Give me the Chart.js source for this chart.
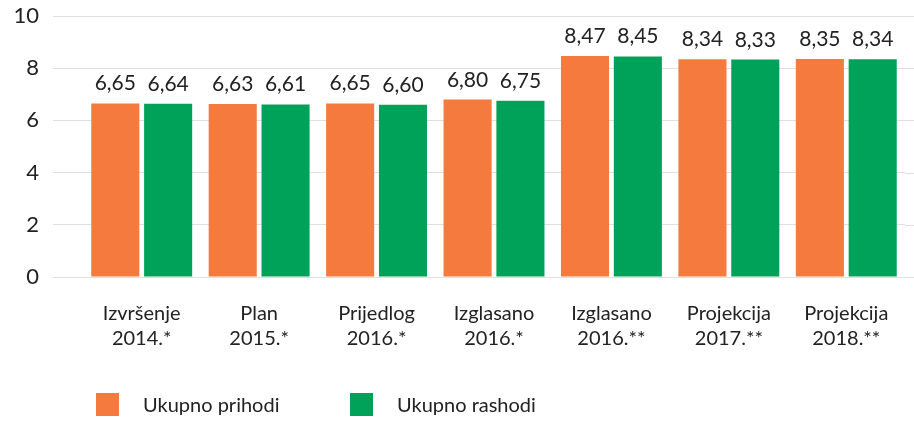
<!DOCTYPE html>
<html><head><meta charset="utf-8">
<script src="https://cdn.jsdelivr.net/npm/chart.js@4/dist/chart.umd.min.js"></script>
<style>html,body{margin:0;padding:0;background:#fff}#wrap{width:914px;height:421px}</style>
</head><body><div id="wrap"><canvas id="c" width="914" height="421"></canvas></div>
<script>
const categories = [['Izvršenje','2014.*'],['Plan','2015.*'],['Prijedlog','2016.*'],['Izglasano','2016.*'],['Izglasano','2016.**'],['Projekcija','2017.**'],['Projekcija','2018.**']];
const seriesNames = ['Ukupno prihodi','Ukupno rashodi'];
const prihodi = [6.65, 6.63, 6.65, 6.80, 8.47, 8.34, 8.35];
const rashodi = [6.64, 6.61, 6.60, 6.75, 8.45, 8.33, 8.34];
const yTicks = [0, 2, 4, 6, 8, 10];
const colors = ['#F47A3E', '#00A259'];

const labelFont = '"Lato", "Noto Sans", sans-serif';
const gridColor = '#e0e0e0';

const gridExtend = {
  id: 'gridExtend',
  beforeDatasetsDraw(chart) {
    const ctx = chart.ctx, y = chart.scales.y, a = chart.chartArea;
    ctx.save();
    ctx.strokeStyle = gridColor;
    ctx.lineWidth = 1;
    y.ticks.forEach(t => {
      const py = Math.round(y.getPixelForValue(t.value)) + 0.5;
      ctx.beginPath();
      ctx.moveTo(a.right, py);
      ctx.lineTo(chart.width, py);
      ctx.stroke();
    });
    ctx.restore();
  }
};

const valueLabels = {
  id: 'valueLabels',
  afterDatasetsDraw(chart) {
    const ctx = chart.ctx;
    ctx.save();
    ctx.font = '21px ' + labelFont;
    ctx.fillStyle = '#222';
    ctx.textAlign = 'center';
    ctx.textBaseline = 'alphabetic';
    chart.data.datasets.forEach((ds, di) => {
      const meta = chart.getDatasetMeta(di);
      meta.data.forEach((el, i) => {
        ctx.fillText(ds.data[i].toFixed(2).replace('.', ','), el.x, el.y - 13);
      });
    });
    ctx.restore();
  }
};

const customLegend = {
  id: 'customLegend',
  afterDraw(chart) {
    const ctx = chart.ctx;
    ctx.save();
    ctx.font = '20px ' + labelFont;
    ctx.textBaseline = 'middle';
    const starts = [96, 350];
    chart.data.datasets.forEach((ds, di) => {
      const x = starts[di];
      ctx.fillStyle = ds.backgroundColor;
      ctx.fillRect(x, 393, 23, 23);
      ctx.fillStyle = '#222';
      ctx.fillText(ds.label, x + 47, 406);
    });
    ctx.restore();
  }
};

new Chart(document.getElementById('c'), {
  type: 'bar',
  data: {
    labels: categories,
    datasets: [
      { label: seriesNames[0], data: prihodi, backgroundColor: colors[0], categoryPercentage: 0.9, barPercentage: 0.91 },
      { label: seriesNames[1], data: rashodi, backgroundColor: colors[1], categoryPercentage: 0.9, barPercentage: 0.91 }
    ]
  },
  options: {
    responsive: false,
    animation: false,
    layout: { padding: { top: 16, right: 9, bottom: 0, left: 0 } },
    plugins: { legend: { display: false }, tooltip: { enabled: false } },
    scales: {
      x: {
        grid: { display: false },
        border: { display: false },
        ticks: { font: { family: labelFont, size: 20, lineHeight: 1.25 }, color: '#222', padding: 16, maxRotation: 0, autoSkip: false },
        afterFit(s) { s.height = 144; s.paddingLeft = 0; s.paddingRight = 0; }
      },
      y: {
        min: 0, max: 10,
        afterBuildTicks(s) { s.ticks = yTicks.map(v => ({ value: v })); },
        grid: { color: gridColor, lineWidth: 1, tickLength: 30 },
        border: { display: false },
        ticks: { font: { family: labelFont, size: 22 }, color: '#222', padding: 14 },
        afterFit(s) { s.width = 83; s.paddingTop = 0; s.paddingBottom = 0; }
      }
    }
  },
  plugins: [gridExtend, valueLabels, customLegend]
});
</script>
</body></html>
